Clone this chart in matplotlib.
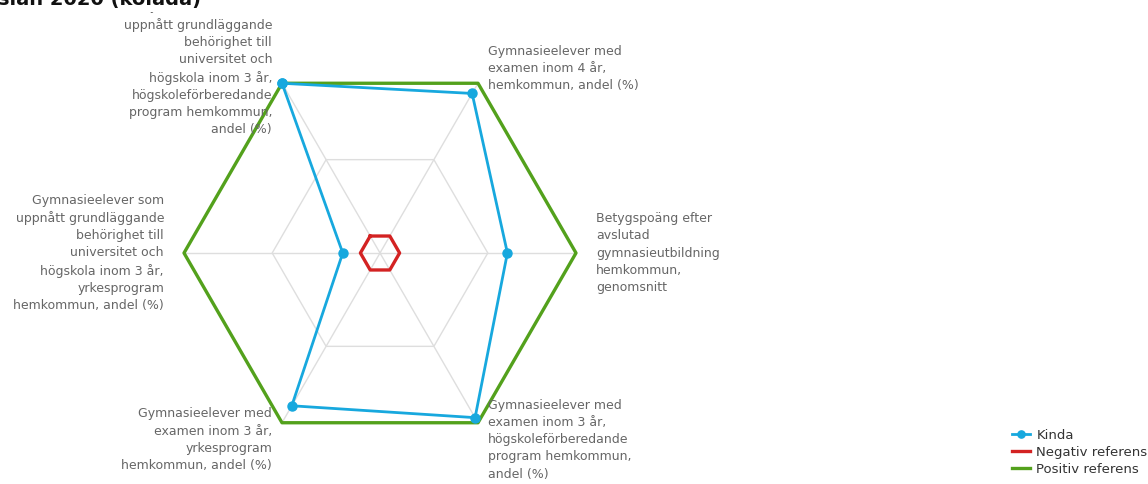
import numpy as np
import matplotlib
matplotlib.use("Agg")
import matplotlib.pyplot as plt
from matplotlib.patches import Rectangle

# axis labels, clockwise from the top-left spoke
categories = [
    "Gymnasieelever som\nuppnått grundläggande\nbehörighet till\nuniversitet och\nhögskola inom 3 år,\nhögskoleförberedande\nprogram hemkommun,\nandel (%)",
    "Gymnasieelever med\nexamen inom 4 år,\nhemkommun, andel (%)",
    "Betygspoäng efter\navslutad\ngymnasieutbildning\nhemkommun,\ngenomsnitt",
    "Gymnasieelever med\nexamen inom 3 år,\nhögskoleförberedande\nprogram hemkommun,\nandel (%)",
    "Gymnasieelever med\nexamen inom 3 år,\nyrkesprogram\nhemkommun, andel (%)",
    "Gymnasieelever som\nuppnått grundläggande\nbehörighet till\nuniversitet och\nhögskola inom 3 år,\nyrkesprogram\nhemkommun, andel (%)",
]
kinda = [100, 94, 65, 97, 90, 19]
negativ = [10, 10, 10, 10, 10, 10]
positiv = [100, 100, 100, 100, 100, 100]
grid_levels = [55, 100]

title = "sian 2020 (kolada)"

# label placement (offset in pixels, alignment)
label_pos = [
    ((-10, 15), "right"),
    ((10, 15), "left"),
    ((20, 0), "left"),
    ((10, -17), "left"),
    ((-10, -17), "right"),
    ((-20, 0), "right"),
]

BLUE = "#17a8de"
RED = "#d32222"
GREEN = "#53a11c"
GRID = "#dedede"
TEXT = "#666666"

W, H = 1148, 484
fig = plt.figure(figsize=(W / 100, H / 100), dpi=100)
cx, cy, rad = 380, 253, 196
ax = fig.add_axes([(cx - rad) / W, (H - cy - rad) / H, 2 * rad / W, 2 * rad / H],
                  projection="polar")
ax.set_theta_offset(2 * np.pi / 3)
ax.set_theta_direction(-1)
ax.set_ylim(0, 100)
ax.grid(False)
ax.spines["polar"].set_visible(False)
ax.set_xticks([])
ax.set_yticks([])
ax.patch.set_alpha(0)

n = len(categories)
theta = np.arange(n) * 2 * np.pi / n
tc = np.append(theta, theta[0])

def closed(v):
    return np.append(v, v[0])

# hexagon grid
for lvl in grid_levels:
    ax.plot(tc, [lvl] * (n + 1), color=GRID, lw=1, zorder=1, clip_on=False)
for t in theta:
    ax.plot([t, t], [0, 100], color=GRID, lw=1, zorder=1)

ax.plot(tc, closed(positiv), color=GREEN, lw=2.4, zorder=3, clip_on=False, label="Positiv referens")
ax.plot(tc, closed(negativ), color=RED, lw=2.4, zorder=3, clip_on=False, label="Negativ referens")
ax.plot(tc, closed(kinda), color=BLUE, lw=2, marker="o", ms=6.5, zorder=4, clip_on=False, label="Kinda")

for t, lab, (off, ha) in zip(theta, categories, label_pos):
    ax.annotate(lab, xy=(t, 100), xytext=off, textcoords="offset pixels",
                ha=ha, va="center", fontsize=9, color=TEXT, linespacing=1.42,
                annotation_clip=False)

handles, labels = ax.get_legend_handles_labels()
order = [2, 1, 0]
fig.legend([handles[i] for i in order], [labels[i] for i in order],
           loc="upper left", bbox_to_anchor=(1012 / W, 1 - 429 / H),
           frameon=False, fontsize=9.5, labelcolor="#333333",
           handlelength=1.4, handletextpad=0.45, labelspacing=0.3,
           borderpad=0, borderaxespad=0, markerscale=0.8)

# title strip covers the top of the plot area
fig.add_artist(Rectangle((0, 1 - 12 / H), 1, 12 / H, transform=fig.transFigure,
                         facecolor="white", edgecolor="none", zorder=5))
fig.text(-2 / W, 1 - 5 / H, title, fontsize=14, fontweight="bold", color="#111111",
         ha="left", va="baseline", zorder=6)

fig.savefig("out.png", dpi=100)
